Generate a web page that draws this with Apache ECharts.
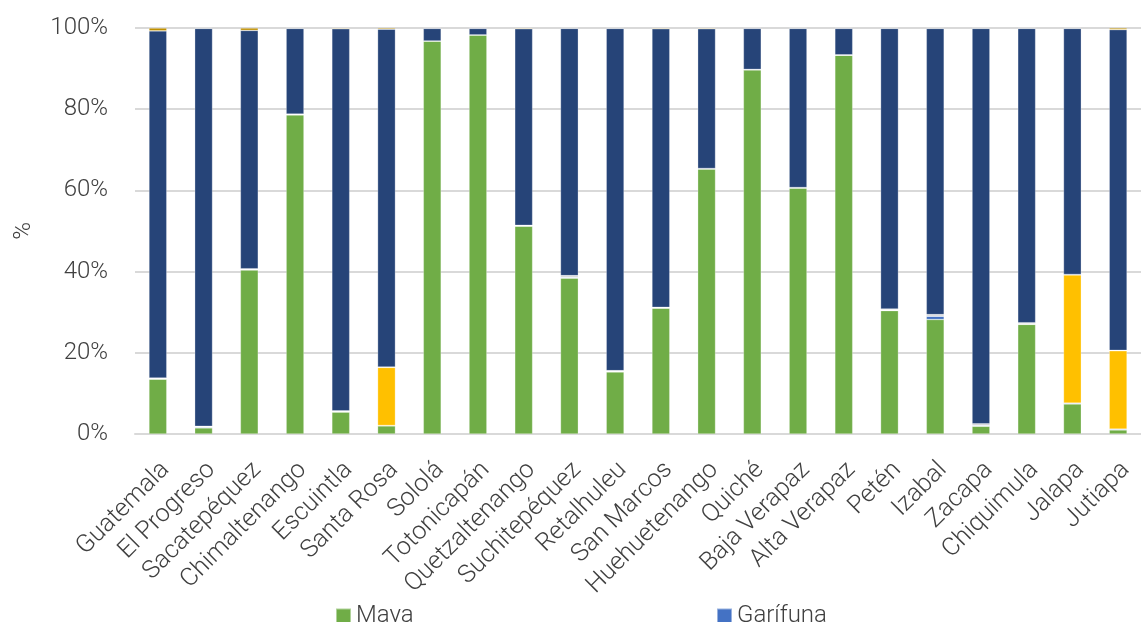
<!DOCTYPE html>
<html>
<head>
<meta charset="utf-8">
<style>
  html, body { margin: 0; padding: 0; background: #fff; }
  #chart { width: 1141px; height: 622px; }
</style>
<script src="https://cdn.jsdelivr.net/npm/echarts@6/dist/echarts.min.js"></script>
</head>
<body>
<div id="chart"></div>
<script>
// Departments of Guatemala
const departamentos = ['Guatemala', 'El Progreso', 'Sacatepéquez', 'Chimaltenango', 'Escuintla', 'Santa Rosa',
  'Sololá', 'Totonicapán', 'Quetzaltenango', 'Suchitepéquez', 'Retalhuleu', 'San Marcos', 'Huehuetenango',
  'Quiché', 'Baja Verapaz', 'Alta Verapaz', 'Petén', 'Izabal', 'Zacapa', 'Chiquimula', 'Jalapa', 'Jutiapa'];

// Share of population by ethnic self-identification (%)
const maya =             [13.5, 1.5, 40.4, 78.6, 5.4, 2.0, 96.8, 98.3, 51.2, 38.4, 15.3, 31.0, 65.3, 89.7, 60.6, 93.3, 30.4, 28.2, 1.9, 27.0, 7.4, 1.0];
const garifuna =         [0.1, 0.2, 0.1, 0.1, 0.1, 0.1, 0.0, 0.0, 0.1, 0.2, 0.1, 0.1, 0.0, 0.0, 0.0, 0.0, 0.1, 0.8, 0.2, 0.1, 0.2, 0.2];
const xinka =            [0.1, 0.1, 0.1, 0.0, 0.1, 14.3, 0.0, 0.0, 0.0, 0.1, 0.1, 0.0, 0.0, 0.0, 0.0, 0.0, 0.1, 0.1, 0.1, 0.1, 31.6, 19.3];
const afrodescendiente = [0.1, 0.1, 0.1, 0.1, 0.1, 0.1, 0.0, 0.0, 0.1, 0.3, 0.1, 0.1, 0.1, 0.1, 0.1, 0.1, 0.2, 0.3, 0.3, 0.2, 0.1, 0.1];
const ladino =           [85.5, 98.0, 58.7, 21.1, 94.1, 83.2, 3.1, 1.6, 48.4, 60.9, 84.3, 68.6, 34.4, 10.1, 39.2, 6.5, 69.1, 70.5, 97.4, 72.5, 60.6, 79.0];
const extranjero =       [0.7, 0.1, 0.6, 0.1, 0.2, 0.3, 0.1, 0.1, 0.2, 0.1, 0.1, 0.2, 0.2, 0.1, 0.1, 0.1, 0.1, 0.1, 0.1, 0.1, 0.1, 0.4];

const yTicks = { min: 0, max: 100, interval: 20 };

const textColor = '#404040';
const fontFamily = 'Roboto, "Noto Sans", sans-serif';

function barSeries(name, data, color) {
  return {
    name: name,
    type: 'bar',
    stack: 'total',
    data: data,
    barCategoryGap: '61%',
    itemStyle: { color: color, borderColor: 'rgba(255,255,255,0.45)', borderWidth: 0.6 }
  };
}

// Two legend columns; rows beyond the first run past the bottom edge
function legendColumn(left, names) {
  return {
    orient: 'vertical', left: left, top: 604, height: 300, padding: 0,
    itemWidth: 15, itemHeight: 15, itemGap: 30, icon: 'rect',
    textStyle: { fontSize: 24, color: textColor, fontFamily: fontFamily, fontWeight: 300 },
    data: names
  };
}

const chart = echarts.init(document.getElementById('chart'), null, { renderer: 'canvas' });

chart.setOption({
  animation: false,
  textStyle: { fontFamily: fontFamily, color: textColor },
  // the plot runs slightly past the right edge of the page
  grid: { left: 135, right: -13, top: 28, bottom: 188, containLabel: false },
  legend: [
    legendColumn(335, ['Maya', 'Xinka', 'Ladino']),
    legendColumn(716, ['Garífuna', 'Afrodescendiente', 'Extranjero'])
  ],
  xAxis: {
    type: 'category',
    data: departamentos,
    axisLine: { show: true, lineStyle: { color: '#d9d9d9', width: 2 } },
    axisTick: { show: false },
    axisLabel: {
      rotate: 45, fontSize: 25, fontWeight: 300, color: textColor,
      margin: 40, interval: 0, padding: [0, -11, 0, 0]
    }
  },
  yAxis: {
    type: 'value',
    min: yTicks.min, max: yTicks.max, interval: yTicks.interval,
    name: '%',
    nameLocation: 'middle',
    nameGap: 99,
    nameRotate: 90,
    nameTextStyle: { fontSize: 24, fontWeight: 300, color: textColor },
    axisLine: { show: false },
    axisTick: { show: false },
    axisLabel: { formatter: '{value}%', fontSize: 24, fontWeight: 300, color: textColor, margin: 27 },
    splitLine: { lineStyle: { color: '#d9d9d9', width: 2 } }
  },
  series: [
    barSeries('Maya', maya, '#70AD47'),
    barSeries('Garífuna', garifuna, '#4472C4'),
    barSeries('Xinka', xinka, '#FFC000'),
    barSeries('Afrodescendiente', afrodescendiente, '#A5A5A5'),
    barSeries('Ladino', ladino, '#264478'),
    barSeries('Extranjero', extranjero, '#BF9000')
  ]
});
</script>
</body>
</html>
